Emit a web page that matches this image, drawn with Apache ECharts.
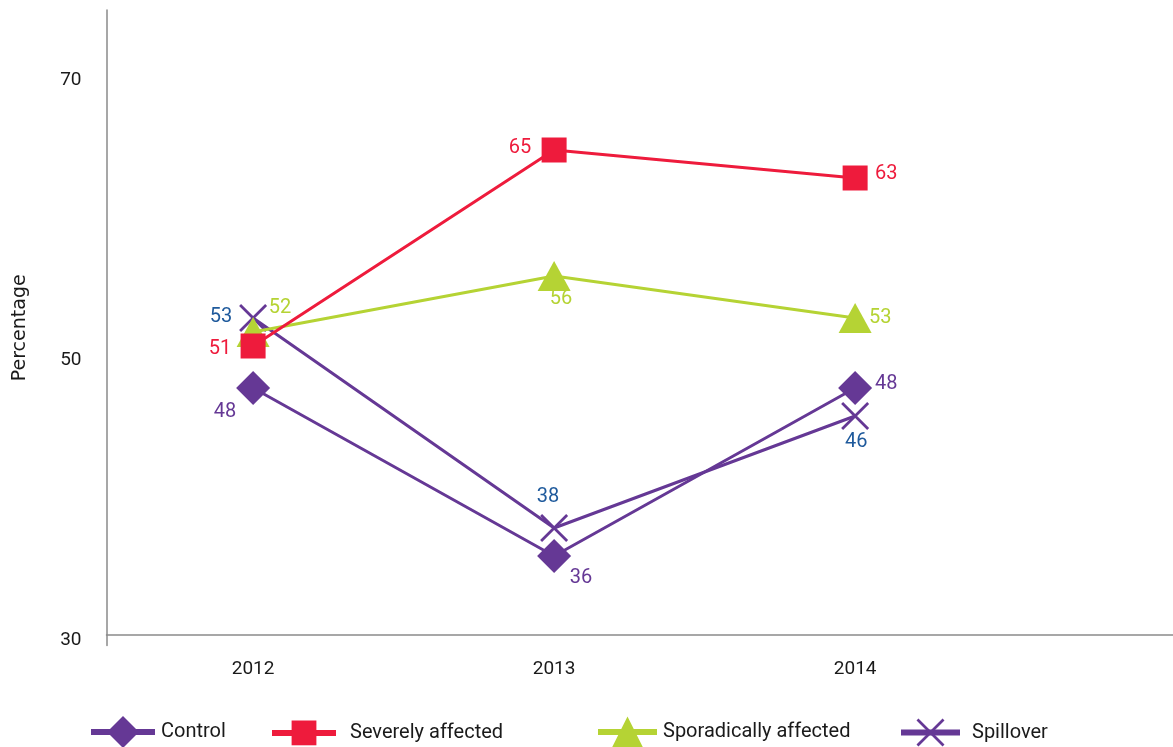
<!DOCTYPE html>
<html>
<head>
<meta charset="utf-8">
<title>Percentage by group, 2012–2014</title>
<script src="https://cdn.jsdelivr.net/npm/echarts@6/dist/echarts.min.js"></script>
<style>
  html, body { margin: 0; padding: 0; background: #ffffff; }
  #chart { width: 1173px; height: 747px; }
</style>
</head>
<body>
<div id="chart"></div>
<script>
// Survey years and group values (percent)
const years = [2012, 2013, 2014];
const groupNames = ['Control', 'Severely affected', 'Sporadically affected', 'Spillover'];
const controlValues = [48, 36, 48];
const severelyValues = [51, 65, 63];
const sporadicValues = [52, 56, 53];
const spilloverValues = [53, 38, 46];
const yTickLabels = [30, 50, 70];

// X-shaped marker built from two crossing bars
const crossSymbol = 'path://M0,7 L7,0 L100,93 L93,100 Z M93,0 L100,7 L7,100 L0,93 Z';

const FONT = 'Roboto';

// Per-series look: line colour, label colour, marker, marker size,
// legend placement, and where each value label sits relative to its marker (dx, dy)
const styles = [
  { color: '#653895', labelColor: '#653895', symbol: 'diamond', size: [34, 34],
    legendLeft: 88, legendW: 64, legendH: 40, textGap: 1,
    offsets: [[-28, 24], [27, 22], [31, -4]] },
  { color: '#ee1b3c', labelColor: '#ee1b3c', symbol: 'rect', size: [25, 25],
    legendLeft: 269, legendW: 64, legendH: 31, textGap: 9,
    offsets: [[-33, 3], [-34, -2], [31, -4]] },
  { color: '#b5d334', labelColor: '#b5d334', symbol: 'triangle', size: [33, 30],
    legendLeft: 595, legendW: 59, legendH: 39, textGap: 1,
    offsets: [[27, -24], [7, 23], [25, 0]] },
  { color: '#653895', labelColor: '#1f5a9c', symbol: crossSymbol, size: [28, 28],
    legendLeft: 898, legendW: 59, legendH: 35, textGap: 7,
    offsets: [[-32, -1], [-6, -31], [1, 26]] }
];

const valueSets = [controlValues, severelyValues, sporadicValues, spilloverValues];

const series = groupNames.map((name, i) => {
  const st = styles[i];
  return {
    name: name,
    type: 'line',
    symbol: st.symbol,
    symbolSize: st.size,
    z: 10 - i,
    lineStyle: { color: st.color, width: 3 },
    itemStyle: { color: st.color },
    emphasis: { disabled: true },
    data: years.map((yr, j) => ({
      value: [yr, valueSets[i][j]],
      label: {
        show: true,
        position: 'inside',
        offset: st.offsets[j],
        color: st.labelColor,
        fontFamily: FONT,
        fontSize: 20,
        formatter: String(valueSets[i][j])
      }
    }))
  };
});

// One legend block per group so each entry can sit at its own spot
const legends = groupNames.map((name, i) => ({
  data: [name],
  left: styles[i].legendLeft,
  top: 736 - styles[i].legendH / 2,
  itemWidth: styles[i].legendW,
  itemHeight: styles[i].legendH,
  itemGap: 0,
  padding: 0,
  selectedMode: false,
  lineStyle: { width: 6 },
  textStyle: { fontFamily: FONT, fontSize: 20, color: '#1a1a1a', padding: [0, 0, 0, styles[i].textGap] }
}));

const chart = echarts.init(document.getElementById('chart'), null, { renderer: 'canvas' });
chart.setOption({
  animation: false,
  backgroundColor: '#ffffff',
  grid: { left: 106.5, right: 0, top: 10, bottom: 101.4, containLabel: false },
  legend: legends,
  xAxis: {
    type: 'value',
    min: 2011.513,
    max: 2015.056,
    offset: -11,
    splitLine: { show: false },
    axisTick: { show: false },
    axisLine: { show: true, lineStyle: { color: '#8a8a8a', width: 1.5 } },
    axisLabel: {
      customValues: years,
      margin: 25,
      color: '#1a1a1a',
      fontFamily: FONT,
      fontSize: 19,
      formatter: v => String(v)
    }
  },
  yAxis: {
    type: 'value',
    min: 29.6,
    max: 75,
    name: 'Percentage',
    nameLocation: 'middle',
    nameRotate: 90,
    nameGap: 77,
    nameTextStyle: { fontFamily: 'DejaVu Sans', fontSize: 19, color: '#1a1a1a' },
    splitLine: { show: false },
    axisTick: { show: false },
    axisLine: { show: true, lineStyle: { color: '#8a8a8a', width: 1.5 } },
    axisLabel: {
      customValues: yTickLabels,
      margin: 25,
      color: '#1a1a1a',
      fontFamily: FONT,
      fontSize: 19
    }
  },
  series: series
});
</script>
</body>
</html>
